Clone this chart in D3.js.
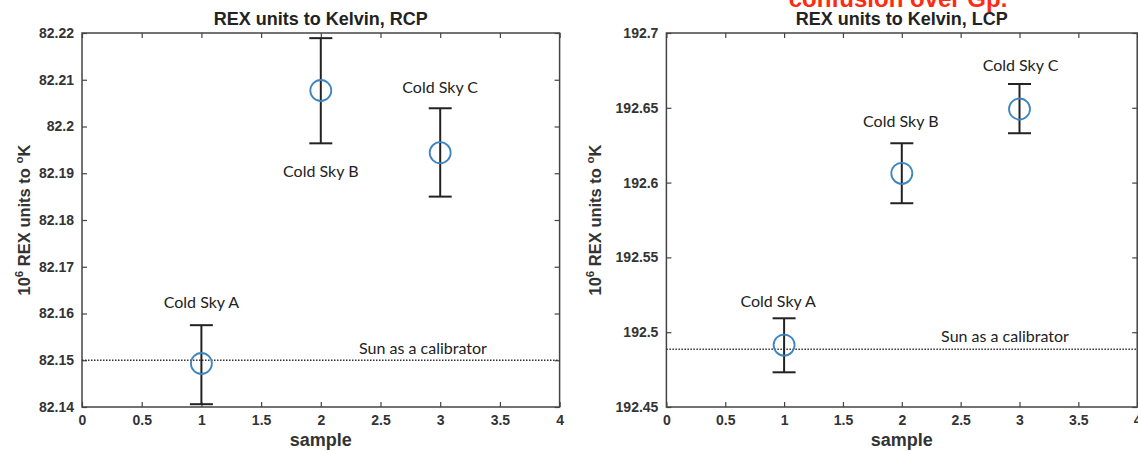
<!DOCTYPE html>
<html>
<head>
<meta charset="utf-8">
<script src="https://cdn.jsdelivr.net/npm/d3@7"></script>
<style>
  body { margin: 0; background: #fff; }
  svg { display: block; }
</style>
</head>
<body>
<div id="wrapper"></div>
<script>
const MARKER_COLOR = "#3d85c0";
const BAR_COLOR = "#222";
const AXIS_COLOR = "#444";
const LABEL_COLOR = "#333";
const SANS = "'Liberation Sans', Arial, sans-serif";
const NOTE_FONT = "Lato, 'Open Sans', sans-serif";

// shared
const samples = [1, 2, 3];
const noteNames = ["Cold Sky A", "Cold Sky B", "Cold Sky C"];
const xTicks = [0, 0.5, 1, 1.5, 2, 2.5, 3, 3.5, 4];
const xTickLabels = ["0", "0.5", "1", "1.5", "2", "2.5", "3", "3.5", "4"];

// RCP panel
const rcpMean = [82.1493, 82.2077, 82.1944];
const rcpLow = [82.1406, 82.1964, 82.1850];
const rcpHigh = [82.1575, 82.2189, 82.2039];
const rcpSun = 82.1500;
const rcpTicks = [82.14, 82.15, 82.16, 82.17, 82.18, 82.19, 82.20, 82.21, 82.22];
const rcpTickLabels = ["82.14", "82.15", "82.16", "82.17", "82.18", "82.19", "82.2", "82.21", "82.22"];

// LCP panel
const lcpMean = [192.4914, 192.6062, 192.6492];
const lcpLow = [192.4732, 192.5862, 192.6330];
const lcpHigh = [192.5093, 192.6263, 192.6659];
const lcpSun = 192.4886;
const lcpTicks = [192.45, 192.5, 192.55, 192.6, 192.65, 192.7];
const lcpTickLabels = ["192.45", "192.5", "192.55", "192.6", "192.65", "192.7"];

const width = 1138;
const height = 451;

const svg = d3.select("#wrapper")
  .append("svg")
  .attr("width", width)
  .attr("height", height);

function drawPanel(opts) {
  const xScale = d3.scaleLinear()
    .domain([0, 4])
    .range([opts.left, opts.right]);
  const yScale = d3.scaleLinear()
    .domain(opts.yDomain)
    .range([opts.bottom, opts.top]);

  const g = svg.append("g");

  // ticks (inward, mirrored on all sides)
  const tickLen = 5;
  const xAxisB = d3.axisBottom(xScale).tickValues(xTicks)
    .tickSize(-tickLen).tickPadding(8)
    .tickFormat((d, i) => xTickLabels[i]);
  const xAxisT = d3.axisTop(xScale).tickValues(xTicks)
    .tickSize(-tickLen).tickFormat("");
  const yAxisL = d3.axisLeft(yScale).tickValues(opts.yTicks)
    .tickSize(-tickLen).tickPadding(8)
    .tickFormat((d, i) => opts.yTickLabels[i]);
  const yAxisR = d3.axisRight(yScale).tickValues(opts.yTicks)
    .tickSize(-tickLen).tickFormat("");

  const axes = [
    g.append("g").attr("transform", `translate(0,${opts.bottom})`).call(xAxisB),
    g.append("g").attr("transform", `translate(0,${opts.top})`).call(xAxisT),
    g.append("g").attr("transform", `translate(${opts.left},0)`).call(yAxisL),
    g.append("g").attr("transform", `translate(${opts.right},0)`).call(yAxisR)
  ];
  axes.forEach(a => {
    a.select(".domain").remove();
    a.selectAll(".tick line").attr("stroke", AXIS_COLOR).attr("stroke-width", 1.2);
    a.selectAll(".tick text")
      .attr("fill", LABEL_COLOR)
      .style("font-family", SANS)
      .style("font-weight", "bold")
      .style("font-size", "14px");
  });

  // frame
  g.append("rect")
    .attr("x", opts.left)
    .attr("y", opts.top)
    .attr("width", opts.right - opts.left)
    .attr("height", opts.bottom - opts.top)
    .attr("fill", "none")
    .attr("stroke", AXIS_COLOR)
    .attr("stroke-width", 1.5);

  // sun reference line
  g.append("line")
    .attr("x1", opts.left)
    .attr("x2", opts.right)
    .attr("y1", yScale(opts.sun))
    .attr("y2", yScale(opts.sun))
    .attr("stroke", "#333")
    .attr("stroke-width", 1.5)
    .attr("stroke-dasharray", "1.5 1.5");

  g.append("text")
    .attr("x", xScale(opts.sunLabelX))
    .attr("y", yScale(opts.sun) + opts.sunLabelDy)
    .attr("text-anchor", "middle")
    .attr("fill", "#222")
    .style("font-family", NOTE_FONT)
    .style("font-size", "16px")
    .text("Sun as a calibrator");

  // error bars
  const capW = 11.5;
  samples.forEach((s, i) => {
    const x = xScale(s);
    g.append("line")
      .attr("x1", x).attr("x2", x)
      .attr("y1", yScale(opts.high[i])).attr("y2", yScale(opts.low[i]))
      .attr("stroke", BAR_COLOR).attr("stroke-width", 2);
    [opts.high[i], opts.low[i]].forEach(v => {
      g.append("line")
        .attr("x1", x - capW).attr("x2", x + capW)
        .attr("y1", yScale(v)).attr("y2", yScale(v))
        .attr("stroke", BAR_COLOR).attr("stroke-width", 2);
    });
    g.append("circle")
      .attr("cx", x)
      .attr("cy", yScale(opts.mean[i]))
      .attr("r", 10.5)
      .attr("fill", "none")
      .attr("stroke", MARKER_COLOR)
      .attr("stroke-width", 1.8);

    const above = opts.noteDy[i] < 0;
    g.append("text")
      .attr("x", x + opts.noteDx[i])
      .attr("y", (above ? yScale(opts.high[i]) : yScale(opts.low[i])) + opts.noteDy[i])
      .attr("text-anchor", "middle")
      .attr("fill", "#222")
      .style("font-family", NOTE_FONT)
      .style("font-size", "16px")
      .text(noteNames[i]);
  });

  // title
  g.append("text")
    .attr("x", (opts.left + opts.right) / 2)
    .attr("y", opts.top - 8)
    .attr("text-anchor", "middle")
    .attr("fill", "#222")
    .style("font-family", SANS)
    .style("font-weight", "bold")
    .style("font-size", "18px")
    .text(opts.title);

  // x label
  g.append("text")
    .attr("x", (opts.left + opts.right) / 2)
    .attr("y", opts.bottom + 39)
    .attr("text-anchor", "middle")
    .attr("fill", LABEL_COLOR)
    .style("font-family", SANS)
    .style("font-weight", "bold")
    .style("font-size", "18px")
    .text("sample");

  // y label with superscripts
  const yl = g.append("text")
    .attr("transform", `translate(${opts.yLabelX},${(opts.top + opts.bottom) / 2}) rotate(-90)`)
    .attr("text-anchor", "middle")
    .attr("fill", LABEL_COLOR)
    .style("font-family", SANS)
    .style("font-weight", "bold")
    .style("font-size", "16.5px");
  yl.append("tspan").text("10");
  yl.append("tspan").attr("dy", -7).style("font-size", "11.5px").text("6");
  yl.append("tspan").attr("dy", 7).text(" REX units to ");
  yl.append("tspan").attr("dy", -7).style("font-size", "11.5px").text("o");
  yl.append("tspan").attr("dy", 7).text("K");
}

drawPanel({
  left: 82, right: 559.6, top: 33, bottom: 407,
  yDomain: [82.14, 82.22],
  yTicks: rcpTicks, yTickLabels: rcpTickLabels,
  mean: rcpMean, low: rcpLow, high: rcpHigh,
  sun: rcpSun, sunLabelX: 2.856, sunLabelDy: -6,
  noteDy: [-17, 34, -15],
  noteDx: [0, 0, 0],
  title: "REX units to Kelvin, RCP",
  yLabelX: 30
});

drawPanel({
  left: 666.4, right: 1137.2, top: 33, bottom: 407,
  yDomain: [192.45, 192.7],
  yTicks: lcpTicks, yTickLabels: lcpTickLabels,
  mean: lcpMean, low: lcpLow, high: lcpHigh,
  sun: lcpSun, sunLabelX: 2.877, sunLabelDy: -7,
  noteDy: [-11, -16, -13],
  noteDx: [-6, -1, 1],
  title: "REX units to Kelvin, LCP",
  yLabelX: 601
});

// red note cut off at the top edge
svg.append("text")
  .attr("x", 898)
  .attr("y", 7)
  .attr("text-anchor", "middle")
  .attr("fill", "#ff2a10")
  .style("font-family", SANS)
  .style("font-weight", "bold")
  .style("font-size", "24px")
  .text("confusion over Gp.");
</script>
</body>
</html>
